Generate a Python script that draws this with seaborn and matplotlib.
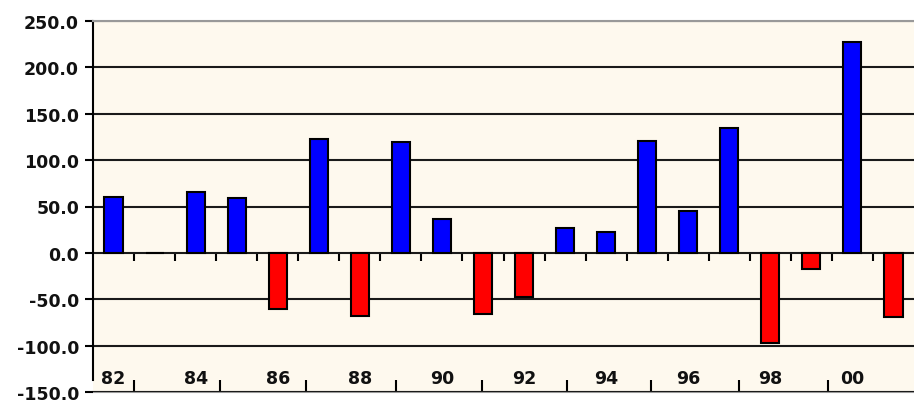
import numpy as np
import pandas as pd
import matplotlib
matplotlib.use("Agg")
import matplotlib.pyplot as plt
import seaborn as sns
from matplotlib.ticker import FormatStrFormatter

# Annual change, 1982-2001
years = ["82", "83", "84", "85", "86", "87", "88", "89", "90", "91",
         "92", "93", "94", "95", "96", "97", "98", "99", "00", "01"]
values = [60.0, 0.0, 66.0, 59.0, -60.0, 123.0, -68.0, 120.0, 37.0, -66.0,
          -48.0, 27.0, 23.0, 121.0, 45.0, 135.0, -97.0, -17.0, 227.0, -69.0]
year_labels = ["82", "", "84", "", "86", "", "88", "", "90", "",
               "92", "", "94", "", "96", "", "98", "", "00", ""]
y_ticks = [-150, -100, -50, 0, 50, 100, 150, 200, 250]

df = pd.DataFrame({"year": years, "value": values})
df["sign"] = np.where(df["value"] < 0, "neg", "pos")

sns.set_theme(style="white")
plt.rcParams["font.family"] = ["DejaVu Sans"]

fig = plt.figure(figsize=(9.14, 4.06), dpi=100)
ax = fig.add_axes([93 / 914, 13 / 406, 1 - 93 / 914, (393 - 22) / 406])
ax.set_facecolor("#FEF9EE")

sns.barplot(data=df, x="year", y="value", hue="sign", order=years,
            palette={"pos": "#0000FF", "neg": "#FF0000"}, dodge=False,
            saturation=1, width=0.44, edgecolor="black", linewidth=1.5,
            legend=False, ax=ax, zorder=3)

ax.set_xlim(-0.5, len(years) - 0.5)
ax.set_ylim(-150, 250)
ax.set_xlabel("")
ax.set_ylabel("")

# horizontal grid
ax.set_yticks(y_ticks)
ax.yaxis.set_major_formatter(FormatStrFormatter("%.1f"))
ax.grid(axis="y", color="#1a1a1a", linewidth=1.5)
ax.grid(axis="x", visible=False)
ax.set_axisbelow(True)
ax.tick_params(axis="y", direction="out", length=6, width=1.5, color="black",
               left=True, labelsize=12.5, pad=4)
for lab in ax.get_yticklabels():
    lab.set_fontweight("bold")
    lab.set_color("#111111")

# category boundary ticks hanging from the zero line
ax.spines["bottom"].set_position(("data", 0))
ax.spines["bottom"].set_visible(False)
ax.set_xticks(np.arange(0.5, len(years) - 1, 1.0))
ax.tick_params(axis="x", direction="out", length=6, width=1.5, color="black",
               bottom=True, labelbottom=False)

# grey base line with its own ticks
sec = ax.secondary_xaxis("bottom")
sec.set_xticks([0.51, 2.6, 4.7, 6.87, 8.97, 11.05, 13.1, 15.24, 17.4])
sec.tick_params(axis="x", direction="in", length=9, width=1.5,
                color="black", labelbottom=False)
sec.spines["bottom"].set_color("#999999")
sec.spines["bottom"].set_linewidth(1.5)

ax.spines["left"].set_color("black")
ax.spines["left"].set_linewidth(1.5)
ax.spines["left"].set_bounds(-137, 250)
ax.spines["top"].set_color("#999999")
ax.spines["top"].set_linewidth(1.5)
ax.spines["right"].set_visible(False)

# year labels inside the plot area
for i, lab in enumerate(year_labels):
    if lab:
        ax.text(i, -135, lab, ha="center", va="center", fontsize=12.5,
                fontweight="bold", color="#111111", zorder=4)

fig.savefig("out.png", dpi=100, facecolor="white")
